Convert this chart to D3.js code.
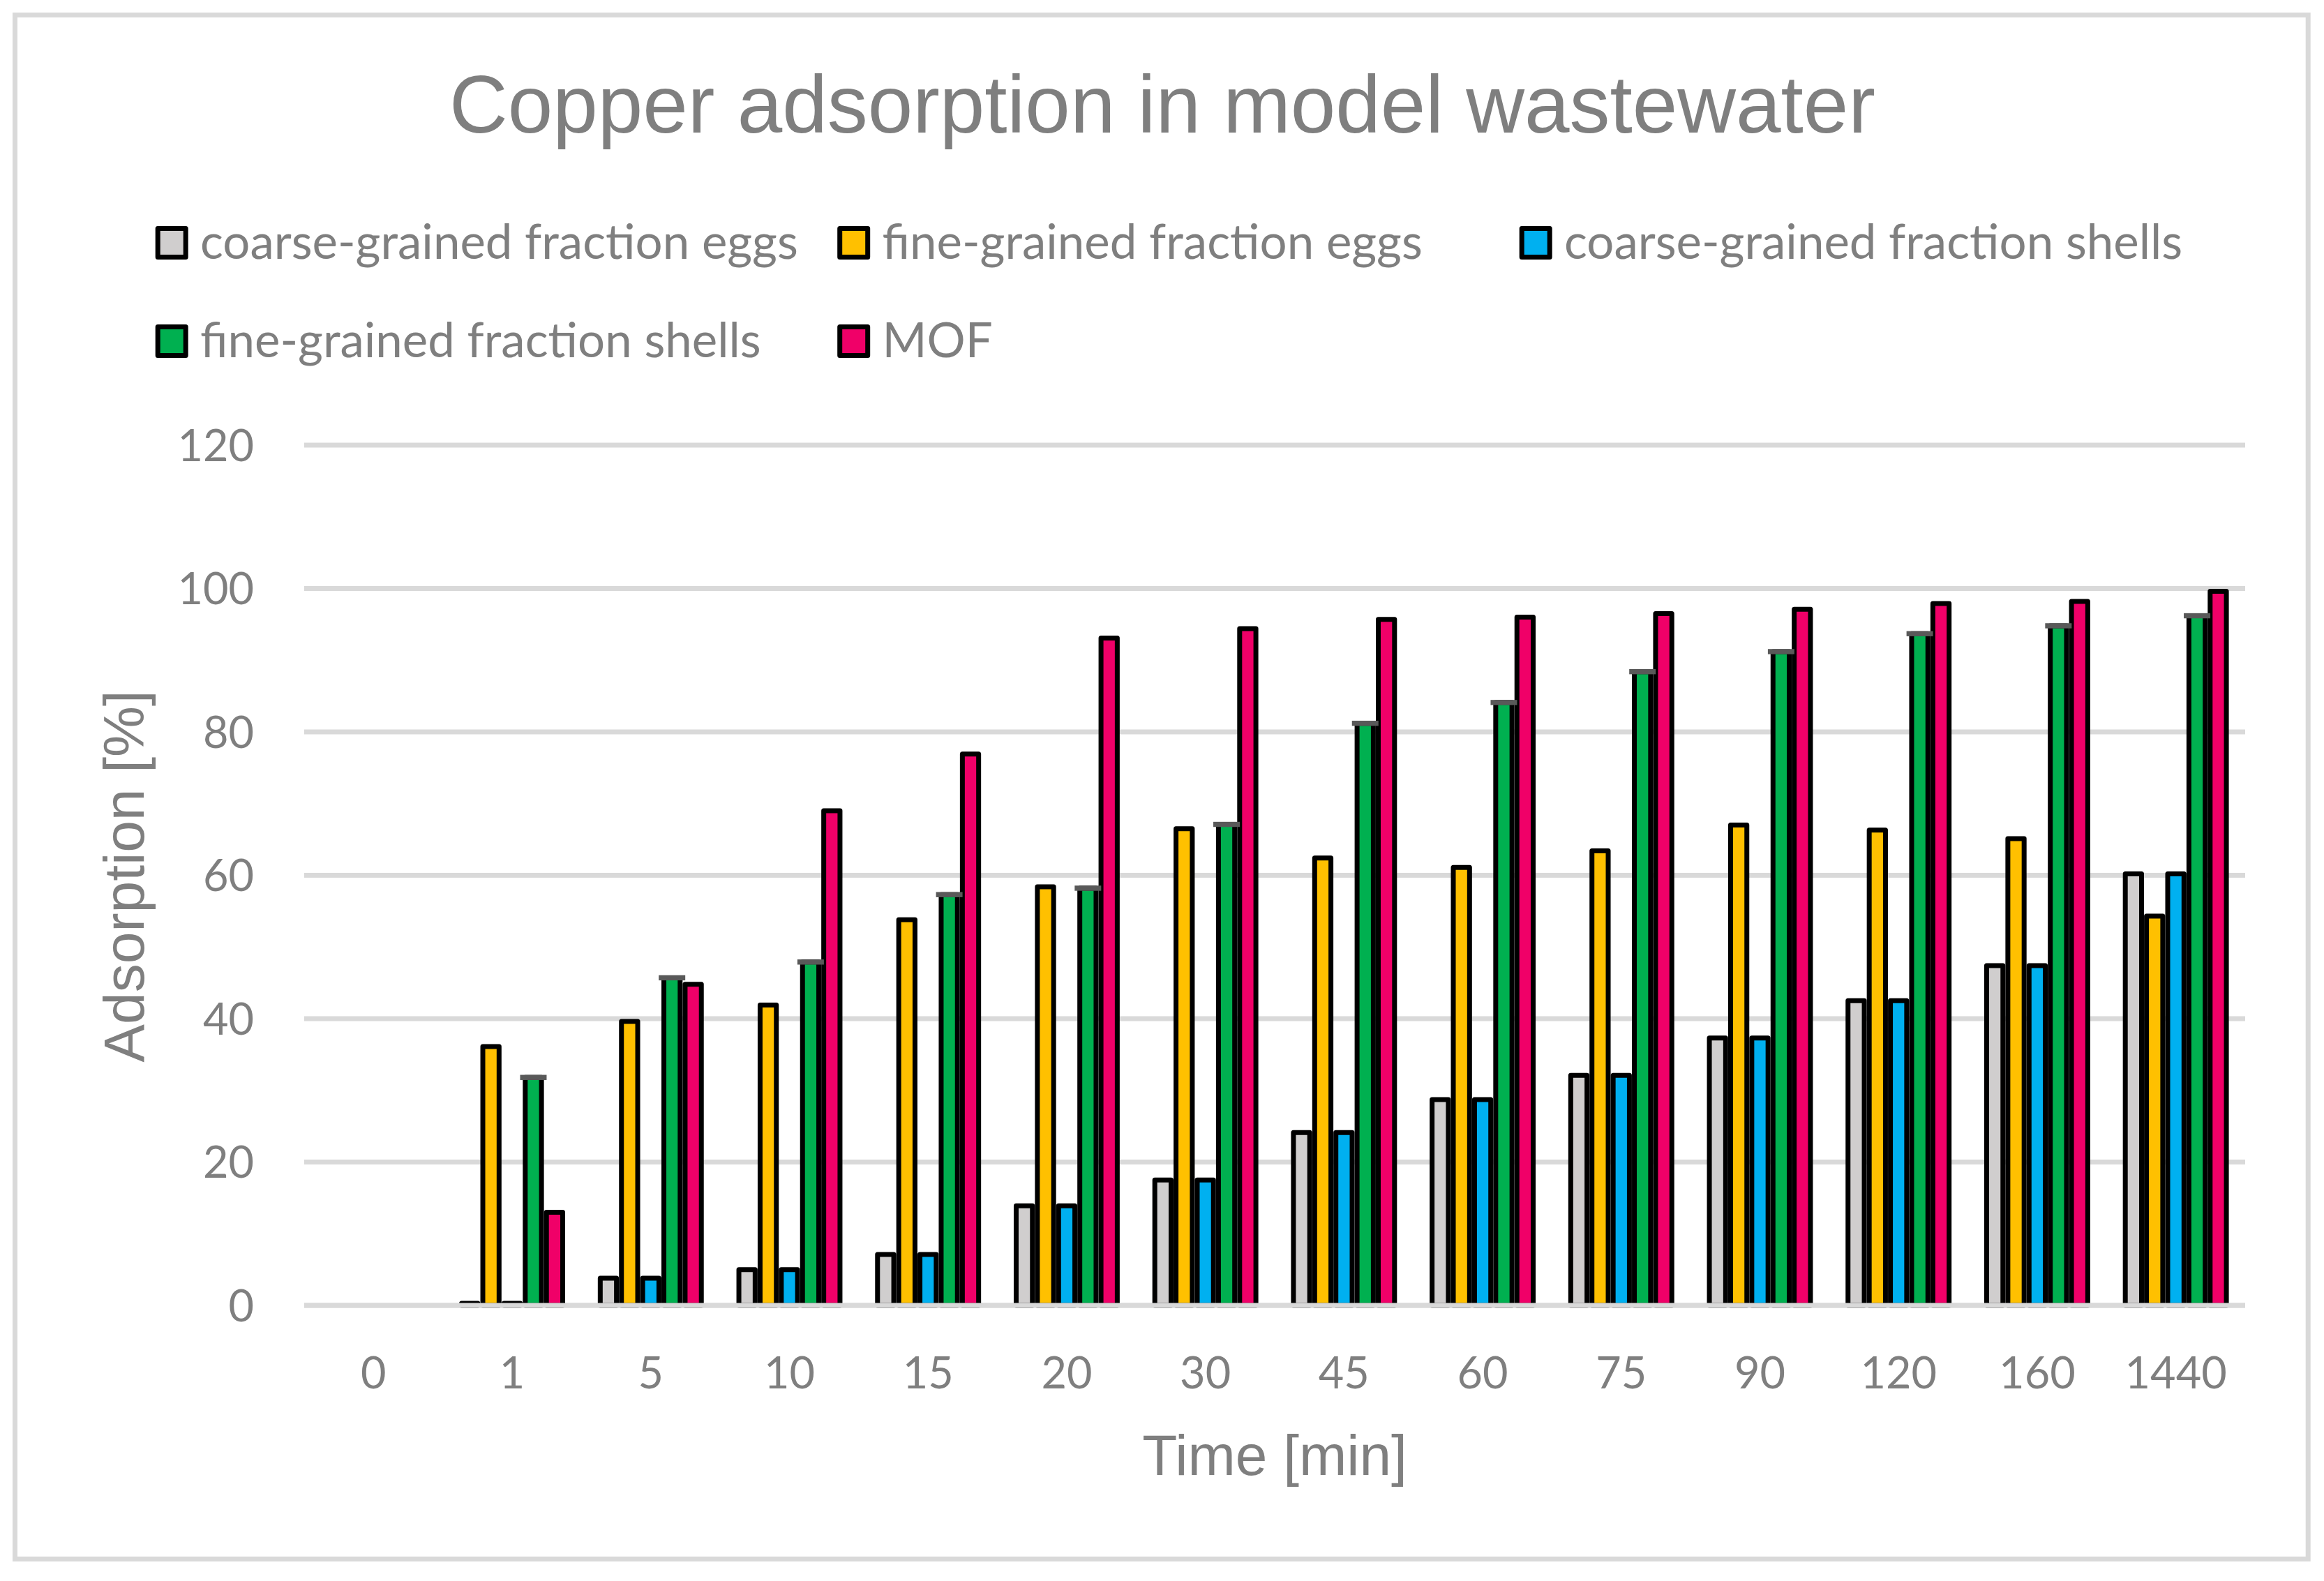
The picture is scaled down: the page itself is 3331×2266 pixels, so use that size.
<!DOCTYPE html>
<html>
<head>
<meta charset="utf-8">
<script src="https://cdn.jsdelivr.net/npm/d3@7"></script>
<style>
  body { margin: 0; background: #fff; }
  .tick-label { font-family: Lato, "Open Sans", sans-serif; fill: #7f7f7f; }
  .title { font-family: "Liberation Sans", Arial, sans-serif; fill: #7f7f7f; }
</style>
</head>
<body>
<svg id="chart" width="3331" height="2266"></svg>
<script>
const categories = ["0", "1", "5", "10", "15", "20", "30", "45", "60", "75", "90", "120", "160", "1440"];
const seriesNames = ["coarse-grained fraction eggs", "fine-grained fraction eggs", "coarse-grained fraction shells", "fine-grained fraction shells", "MOF"];
const seriesColors = ["#d0cece", "#ffc000", "#00b0f0", "#00b050", "#f00068"];

// adsorption [%]
const coarseEggs   = [0, 0.3, 3.8, 5.0, 7.1, 13.9, 17.5, 24.1, 28.7, 32.1, 37.3, 42.5, 47.4, 60.2];
const fineEggs     = [0, 36.1, 39.6, 41.9, 53.8, 58.4, 66.5, 62.4, 61.1, 63.4, 67.0, 66.3, 65.1, 54.3];
const coarseShells = [0, 0.3, 3.8, 5.0, 7.1, 13.9, 17.5, 24.1, 28.7, 32.1, 37.3, 42.5, 47.4, 60.2];
const fineShells   = [0, 31.8, 45.7, 47.9, 57.3, 58.2, 67.1, 81.2, 84.1, 88.4, 91.2, 93.7, 94.8, 96.2];
const mof          = [0, 13.0, 44.8, 69.0, 76.9, 93.1, 94.4, 95.7, 96.0, 96.5, 97.1, 97.9, 98.2, 99.6];

const yTicks = [0, 20, 40, 60, 80, 100, 120];

const seriesValues = [coarseEggs, fineEggs, coarseShells, fineShells, mof];

const svg = d3.select("#chart");

// outer frame
svg.append("rect")
  .attr("x", 21.5).attr("y", 21.5)
  .attr("width", 3286.7).attr("height", 2213)
  .attr("fill", "#fff")
  .attr("stroke", "#d9d9d9")
  .attr("stroke-width", 7);

const x0 = d3.scaleBand()
  .domain(categories)
  .range([436, 3218]);

const groupW = 152;
const x1 = d3.scaleBand()
  .domain(d3.range(seriesNames.length))
  .range([(x0.bandwidth() - groupW) / 2, (x0.bandwidth() + groupW) / 2]);

const y = d3.scaleLinear()
  .domain([0, 120])
  .range([1871, 638]);

// gridlines
svg.append("g")
  .selectAll("line")
  .data(yTicks)
  .enter().append("line")
  .attr("x1", 436).attr("x2", 3218)
  .attr("y1", d => y(d)).attr("y2", d => y(d))
  .attr("stroke", "#d9d9d9")
  .attr("stroke-width", 7);

// y tick labels
svg.append("g")
  .selectAll("text")
  .data(yTicks)
  .enter().append("text")
  .attr("class", "tick-label")
  .attr("x", 364)
  .attr("y", d => y(d))
  .attr("dy", "0.36em")
  .attr("text-anchor", "end")
  .style("font-size", "63px")
  .text(d => d);

// x tick labels
svg.append("g")
  .selectAll("text")
  .data(categories)
  .enter().append("text")
  .attr("class", "tick-label")
  .attr("x", d => x0(d) + x0.bandwidth() / 2)
  .attr("y", 1990)
  .attr("text-anchor", "middle")
  .style("font-size", "63px")
  .text(d => d);

// bars
const barW = 23.3;
const bars = [];
categories.forEach((c, i) => {
  seriesValues.forEach((vals, s) => {
    bars.push({ cat: c, s: s, value: vals[i] });
  });
});

svg.append("g")
  .selectAll("rect")
  .data(bars)
  .enter().append("rect")
  .attr("x", d => x0(d.cat) + x1(d.s) + (x1.bandwidth() - barW) / 2)
  .attr("width", barW)
  .attr("y", d => y(d.value))
  .attr("height", d => y(0) - y(d.value))
  .attr("fill", d => seriesColors[d.s])
  .attr("stroke", "#000")
  .attr("stroke-width", 7)
  .attr("stroke-linejoin", "round");

// grey caps on the fine-grained shells bars
svg.append("g")
  .selectAll("rect")
  .data(bars.filter(d => d.s === 3 && d.value > 0))
  .enter().append("rect")
  .attr("x", d => x0(d.cat) + x1(d.s) + x1.bandwidth() / 2 - 19)
  .attr("width", 38)
  .attr("y", d => y(d.value) - 3.7)
  .attr("height", 7.4)
  .attr("fill", "#595959");

// category axis line over the bar bottoms
svg.append("line")
  .attr("x1", 436).attr("x2", 3218)
  .attr("y1", y(0)).attr("y2", y(0))
  .attr("stroke", "#d9d9d9")
  .attr("stroke-width", 7);

// titles
svg.append("text")
  .attr("class", "title")
  .attr("x", 1666)
  .attr("y", 190)
  .attr("text-anchor", "middle")
  .style("font-size", "116px")
  .text("Copper adsorption in model wastewater");

svg.append("text")
  .attr("class", "title")
  .attr("transform", "translate(206,1256) rotate(-90)")
  .attr("text-anchor", "middle")
  .style("font-size", "82px")
  .text("Adsorption [%]");

svg.append("text")
  .attr("class", "title")
  .attr("x", 1827)
  .attr("y", 2114)
  .attr("text-anchor", "middle")
  .style("font-size", "82px")
  .text("Time [min]");

// legend, 3 per row
const legend = svg.append("g")
  .selectAll("g")
  .data(seriesNames)
  .enter().append("g")
  .attr("transform", (d, i) => `translate(${222.7 + (i % 3) * 977.5},${348 + Math.floor(i / 3) * 141})`);

legend.append("rect")
  .attr("x", 3.5).attr("y", -20.5)
  .attr("width", 40).attr("height", 41)
  .attr("fill", (d, i) => seriesColors[i])
  .attr("stroke", "#000")
  .attr("stroke-width", 7)
  .attr("stroke-linejoin", "round");

legend.append("text")
  .attr("class", "tick-label")
  .attr("x", 64.3)
  .attr("y", 22.5)
  .style("font-size", "69px")
  .text(d => d);
</script>
</body>
</html>
